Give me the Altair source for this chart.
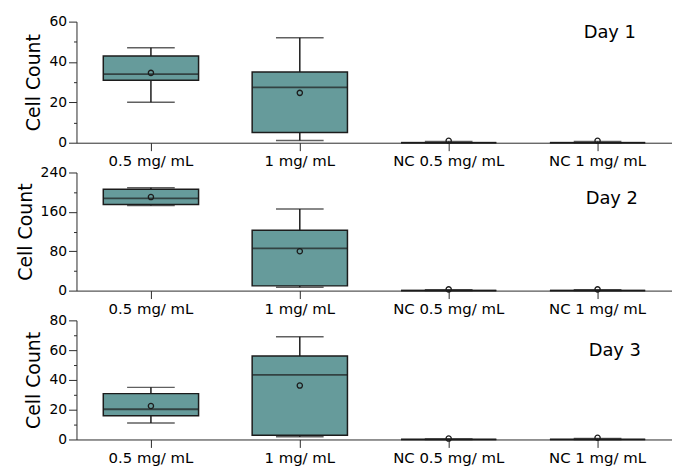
import altair as alt
import pandas as pd

categories = ["0.5 mg/ mL", "1 mg/ mL", "NC 0.5 mg/ mL", "NC 1 mg/ mL"]
days = ["Day 1", "Day 2", "Day 3"]

# Day 1
d1_lower = [20, 1.1, 0, 0]
d1_q1 = [31, 5.1, 0, 0]
d1_median = [34, 27.4, 0, 0]
d1_q3 = [43, 35, 0, 0]
d1_upper = [47, 52, 0.6, 0.6]
d1_mean = [34.6, 24.7, 1.0, 1.0]

# Day 2
d2_lower = [173, 7, 0, 0]
d2_q1 = [175, 9.6, 0, 0]
d2_median = [187.5, 86, 0, 0]
d2_q3 = [206, 122.7, 0, 0]
d2_upper = [209, 165.6, 1.5, 1.5]
d2_mean = [190, 80, 2.5, 2.5]

# Day 3
d3_lower = [11, 1.8, 0, 0]
d3_q1 = [15.9, 2.9, 0, 0]
d3_median = [20.3, 43.4, 0, 0]
d3_q3 = [30.8, 56, 0, 0]
d3_upper = [35, 69, 0.4, 0.6]
d3_mean = [22.5, 36.2, 0.6, 1.2]

y_major = [[0, 20, 40, 60], [0, 80, 160, 240], [0, 20, 40, 60, 80]]
y_minor = [[10, 30, 50], [40, 120, 200], [10, 30, 50, 70]]

FONT = "DejaVu Sans"
FILL = "#669b9b"
STROKE = "#1c1c1c"
AXIS = "#2a2a2a"


def panel(day, lower, q1, med, q3, upper, mean, major, minor, height, tx, ty):
    df = pd.DataFrame({
        "cat": categories, "lower": lower, "q1": q1, "median": med,
        "q3": q3, "upper": upper, "mean": mean,
    })
    xcat = alt.X("cat:N", sort=categories)
    xenc = alt.X("cat:N", sort=categories,
                 scale=alt.Scale(paddingInner=0, paddingOuter=0),
                 axis=alt.Axis(title=None, labelAngle=0, labelFont=FONT,
                               labelFontSize=15, labelColor="black",
                               tickSize=8, labelPadding=3, grid=False,
                               domainColor=AXIS, tickColor=AXIS))
    yscale = alt.Scale(domain=[0, major[-1]], nice=False)
    yaxis = alt.Axis(title="Cell Count", values=major, orient="left",
                     labelOverlap=False, labelFlush=False, tickSize=8,
                     labelFont=FONT, labelFontSize=14, labelColor="black",
                     labelPadding=2, titleFont=FONT, titleFontSize=19,
                     titleFontWeight="normal", titleColor="black", titlePadding=5,
                     grid=False, domainColor=AXIS, tickColor=AXIS)
    minor_axis = alt.Axis(title=None, values=minor, orient="left", labels=False,
                          tickSize=3, domain=False, grid=False, tickColor=AXIS)
    base = alt.Chart(df)
    whisk = base.mark_rule(color=STROKE, strokeWidth=1.5).encode(
        x=xenc, y=alt.Y("lower:Q", scale=yscale, axis=yaxis), y2="upper:Q")
    box = base.mark_bar(size=96, fill=FILL, stroke=STROKE, strokeWidth=1.5).encode(
        x=xcat, y=alt.Y("q1:Q", axis=minor_axis), y2="q3:Q")
    medt = base.mark_tick(size=96, thickness=1.8, color=STROKE).encode(
        x=xcat, y=alt.Y("median:Q", axis=None))
    capu = base.mark_tick(size=48, thickness=1.5, color=STROKE).encode(
        x=xcat, y=alt.Y("upper:Q", axis=None))
    capl = base.mark_tick(size=48, thickness=1.5, color=STROKE).encode(
        x=xcat, y=alt.Y("lower:Q", axis=None))
    meanp = base.mark_point(shape="circle", filled=False, size=28, color=STROKE,
                            strokeWidth=1.3, opacity=1).encode(
        x=xcat, y=alt.Y("mean:Q", axis=None))
    lab = alt.Chart(pd.DataFrame({"t": [day]})).mark_text(
        font=FONT, fontSize=18, align="left", baseline="alphabetic", color="black"
    ).encode(text="t:N", x=alt.value(tx), y=alt.value(ty))
    return alt.layer(whisk, box, medt, capu, capl, meanp, lab).resolve_scale(
        y="shared").resolve_axis(y="independent").properties(width=600, height=height)


p1 = panel(days[0], d1_lower, d1_q1, d1_median, d1_q3, d1_upper, d1_mean,
           y_major[0], y_minor[0], 122, 511, 16.7)
p2 = panel(days[1], d2_lower, d2_q1, d2_median, d2_q3, d2_upper, d2_mean,
           y_major[1], y_minor[1], 119, 513, 32)
p3 = panel(days[2], d3_lower, d3_q1, d3_median, d3_q3, d3_upper, d3_mean,
           y_major[2], y_minor[2], 120, 516, 36)

chart = alt.vconcat(p1, p2, p3, spacing=30, bounds="flush").properties(
    padding={"left": 8, "top": 5, "right": 0, "bottom": 0}
).configure_view(stroke=None)

chart.save("out.html", embed_options={"renderer": "svg", "actions": False})
